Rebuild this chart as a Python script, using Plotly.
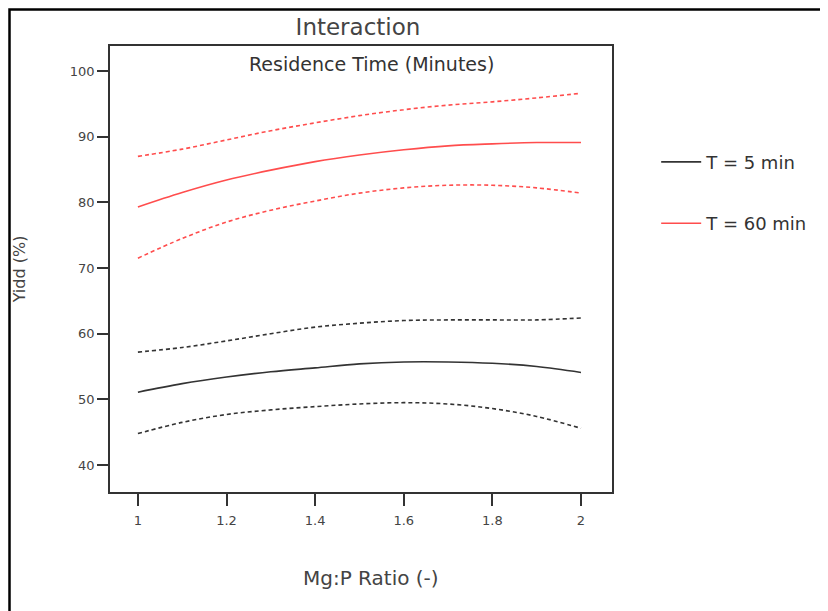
import plotly.graph_objects as go

ratio = [1.0, 1.1, 1.2, 1.3, 1.4, 1.5, 1.6, 1.7, 1.8, 1.9, 2.0]

t60_fit = [79.3, 81.5, 83.4, 84.9, 86.2, 87.2, 88.0, 88.6, 88.9, 89.1, 89.1]
t60_upper = [87.0, 88.1, 89.5, 90.9, 92.1, 93.2, 94.1, 94.8, 95.3, 95.9, 96.6]
t60_lower = [71.5, 74.5, 77.0, 78.8, 80.2, 81.4, 82.2, 82.6, 82.6, 82.2, 81.4]

t5_fit = [51.1, 52.4, 53.4, 54.2, 54.8, 55.4, 55.7, 55.7, 55.5, 55.0, 54.1]
t5_upper = [57.2, 57.9, 58.9, 60.0, 61.0, 61.6, 62.0, 62.1, 62.1, 62.1, 62.4]
t5_lower = [44.8, 46.5, 47.7, 48.4, 48.9, 49.3, 49.5, 49.3, 48.6, 47.4, 45.6]

x_ticks = [1, 1.2, 1.4, 1.6, 1.8, 2]
x_tick_labels = ["1", "1.2", "1.4", "1.6", "1.8", "2"]
y_ticks = [40, 50, 60, 70, 80, 90, 100]

BLACK = "#333333"
RED = "#ff4d4d"

fig = go.Figure()

def add(y, color, dash, name=None, show=False, group=None):
    fig.add_trace(go.Scatter(
        x=ratio, y=y, mode="lines", name=name, showlegend=show,
        legendgroup=group,
        line=dict(color=color, width=1.6, dash=dash, shape="spline"),
        hoverinfo="skip"))

add(t5_fit, BLACK, "solid", "T = 5 min", True, "a")
add(t5_upper, BLACK, "4px,3px")
add(t5_lower, BLACK, "4px,3px")
add(t60_fit, RED, "solid", "T = 60 min", True, "b")
add(t60_upper, RED, "4px,3px")
add(t60_lower, RED, "4px,3px")

font_family = "DejaVu Sans, Noto Sans, sans-serif"
TXT = "#444444"

# page body adds ~8px offset; margins compensate
L, R, T, B = 102, 224, 38, 127
PH = 611 - T - B
PW = 828 - L - R

fig.update_layout(
    width=828, height=611,
    margin=dict(l=L, r=R, t=T, b=B),
    paper_bgcolor="white", plot_bgcolor="white",
    font=dict(family=font_family, color=TXT, size=12),
    title=dict(text="Interaction", x=350 / 828, xanchor="center",
               y=1 - 19 / 611, yanchor="middle",
               font=dict(size=23, color=TXT)),
    legend=dict(x=1.088, y=0.781, xanchor="left", yanchor="top",
                traceorder="grouped", tracegroupgap=35,
                font=dict(size=18, color="#333333"), itemwidth=40,
                bgcolor="rgba(0,0,0,0)"),
    xaxis=dict(range=[0.937, 2.07], tickvals=x_ticks, ticktext=x_tick_labels,
               showgrid=False, zeroline=False, showline=True, mirror=True,
               linecolor=BLACK, linewidth=1.5, ticks="outside", ticklen=12,
               tickwidth=1.5, tickcolor=BLACK, ticklabelstandoff=4,
               tickfont=dict(size=13, color=TXT)),
    yaxis=dict(range=[35.9, 103.8], tickvals=y_ticks,
               showgrid=False, zeroline=False, showline=True, mirror=True,
               linecolor=BLACK, linewidth=1.5, ticks="outside", ticklen=11,
               tickwidth=1.5, tickcolor=BLACK,
               tickfont=dict(size=13, color=TXT),
               title=dict(text="Yidd (%)", standoff=40,
                          font=dict(size=16, color=TXT))),
    annotations=[
        dict(text="Residence Time (Minutes)", xref="paper", yref="paper",
             x=0.52, y=1 - (64 - 46) / PH, xanchor="center",
             yanchor="middle", showarrow=False,
             font=dict(size=19, color="#333333")),
        dict(text="Mg:P Ratio (-)", xref="paper", yref="paper",
             x=0.52, y=-(570 - (611 - B)) / PH, xanchor="center",
             yanchor="middle", showarrow=False,
             font=dict(size=20, color=TXT)),
    ],
    shapes=[dict(type="rect", xref="paper", yref="paper",
                 x0=(1.5 - L) / PW, x1=(816 - L) / PW,
                 y0=-(B + 30) / PH, y1=(PH + T - 1.5) / PH,
                 line=dict(color="black", width=2.5))],
)

fig.write_html("out.html")
